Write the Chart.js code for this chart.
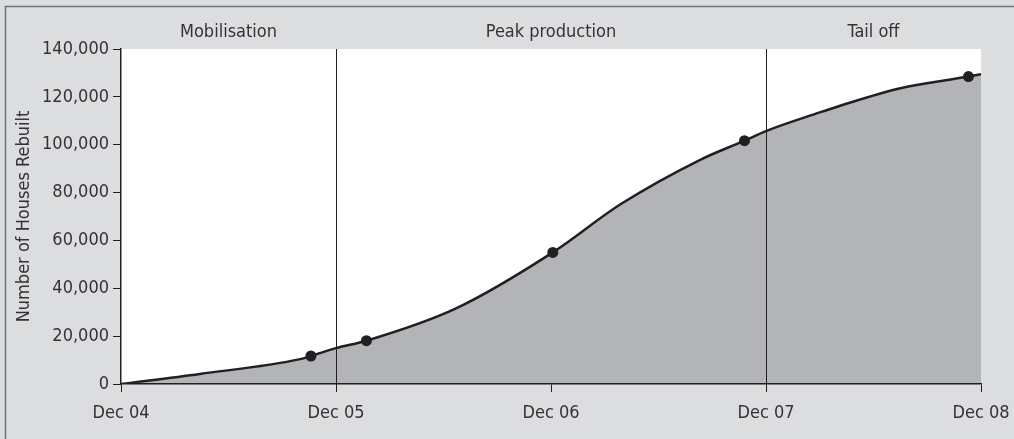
<!DOCTYPE html>
<html><head><meta charset="utf-8">
<script src="https://cdn.jsdelivr.net/npm/chart.js@4/dist/chart.umd.min.js"></script>
<style>html,body{margin:0;padding:0;background:#dcdddf;overflow:hidden}#wrap{width:1014px;height:439px;position:relative}</style>
</head><body><div id="wrap"><canvas id="c"></canvas></div>
<script>
const monthsFromDec04 = [0, 4.4, 10.0, 10.6, 12.0, 13.7, 18.7, 24.1, 27.9, 32.3, 34.8, 36.0, 39.0, 40.1, 43.5, 47.3, 48];
const housesRebuilt = [0, 4200, 10400, 11700, 15000, 18100, 31600, 55000, 75200, 93600, 101700, 105700, 113500, 116200, 123600, 128500, 129500];
const milestoneMonths = [10.6, 13.7, 24.1, 34.8, 47.3];
const milestoneHouses = [11700, 18100, 55000, 101700, 128500];
const xTickValues = [0, 12, 24, 36, 48];
const xTickLabels = ['Dec 04', 'Dec 05', 'Dec 06', 'Dec 07', 'Dec 08'];
const phaseNames = ['Mobilisation', 'Peak production', 'Tail off'];
const phaseBounds = [0, 12, 36, 48];

const FONT = "'Liberation Sans Narrow', 'DejaVu Sans Condensed', 'Arial Narrow', sans-serif";
const FSIZE = 18;
const INK = '#231f20';
const TEXT = '#333335';

const deco = {
  id: 'deco',
  beforeDraw(chart) {
    const {ctx, chartArea: a, width, height} = chart;
    ctx.save();
    ctx.fillStyle = '#dcdddf';
    ctx.fillRect(0, 0, width, height);
    ctx.fillStyle = '#ffffff';
    ctx.fillRect(a.left, a.top, a.right - a.left, a.bottom - a.top);
    ctx.strokeStyle = '#727376';
    ctx.lineWidth = 1.5;
    ctx.beginPath();
    ctx.moveTo(5.5, height);
    ctx.lineTo(5.5, 6.5);
    ctx.lineTo(width, 6.5);
    ctx.stroke();
    ctx.restore();
  },
  afterDatasetsDraw(chart) {
    const {ctx, chartArea: a} = chart;
    const xs = chart.scales.x;
    ctx.save();
    ctx.strokeStyle = INK;
    ctx.lineWidth = 1;
    for (let i = 1; i < phaseBounds.length - 1; i++) {
      const px = Math.round(xs.getPixelForValue(phaseBounds[i])) + 0.5;
      ctx.beginPath();
      ctx.moveTo(px, a.top);
      ctx.lineTo(px, a.bottom + 8);
      ctx.stroke();
    }
    ctx.fillStyle = TEXT;
    ctx.font = FSIZE + 'px ' + FONT;
    ctx.textAlign = 'center';
    ctx.textBaseline = 'alphabetic';
    for (let i = 0; i < phaseNames.length; i++) {
      const cx = (xs.getPixelForValue(phaseBounds[i]) + xs.getPixelForValue(phaseBounds[i + 1])) / 2;
      ctx.fillText(phaseNames[i], cx, 37);
    }
    ctx.restore();
  }
};

new Chart(document.getElementById('c'), {
  type: 'line',
  data: {
    datasets: [
      {
        data: monthsFromDec04.map((m, i) => ({x: m, y: housesRebuilt[i]})),
        borderColor: INK,
        borderWidth: 2.5,
        backgroundColor: '#b3b4b7',
        fill: 'origin',
        pointRadius: 0,
        cubicInterpolationMode: 'monotone',
        order: 2
      },
      {
        data: milestoneMonths.map((m, i) => ({x: m, y: milestoneHouses[i]})),
        showLine: false,
        pointRadius: 5.5,
        pointBackgroundColor: INK,
        pointBorderColor: INK,
        pointBorderWidth: 0,
        order: 1
      }
    ]
  },
  options: {
    responsive: true,
    maintainAspectRatio: false,
    animation: false,
    events: [],
    layout: {padding: {left: 0, top: 49, right: 33, bottom: 0}},
    plugins: {legend: {display: false}, tooltip: {enabled: false}},
    scales: {
      x: {
        type: 'linear',
        min: 0, max: 48,
        afterFit(s) { s.height = 55; s.paddingRight = 0; s.paddingLeft = 0; },
        afterBuildTicks(s) { s.ticks = xTickValues.map(v => ({value: v})); },
        grid: {drawOnChartArea: false, drawTicks: true, tickLength: 8, color: INK, lineWidth: 1},
        border: {display: true, color: INK, width: 1.5, z: 1},
        ticks: {
          autoSkip: false, maxRotation: 0, padding: 11, color: TEXT,
          font: {family: FONT, size: FSIZE},
          callback: (v) => xTickLabels[xTickValues.indexOf(v)]
        }
      },
      y: {
        min: 0, max: 140000,
        afterFit(s) { s.width = 121; },
        grid: {drawOnChartArea: false, drawTicks: true, tickLength: 8, color: INK, lineWidth: 1},
        border: {display: true, color: INK, width: 1.5, z: 1},
        ticks: {
          stepSize: 20000, padding: 4, color: TEXT,
          font: {family: FONT, size: FSIZE},
          callback: (v) => v.toLocaleString('en-US')
        },
        title: {
          display: true, text: 'Number of Houses Rebuilt', color: TEXT,
          font: {family: FONT, size: FSIZE}, padding: {top: 14, bottom: 0}
        }
      }
    }
  },
  plugins: [deco]
});
</script>
</body></html>
